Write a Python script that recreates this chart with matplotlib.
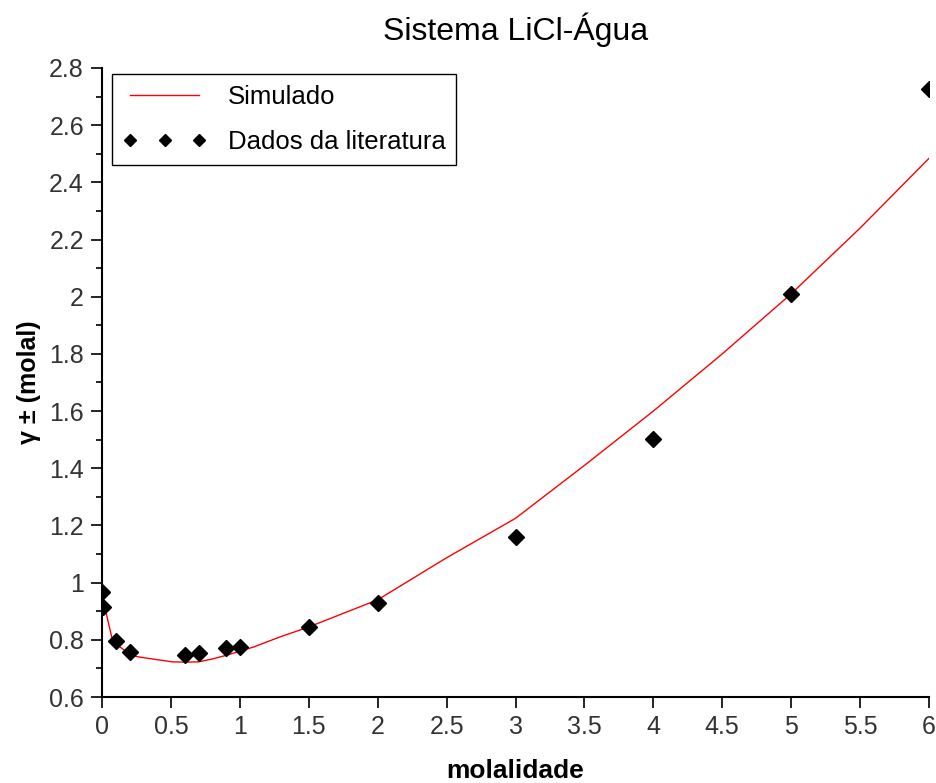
import numpy as np
import matplotlib
matplotlib.use("Agg")
import matplotlib.pyplot as plt
from matplotlib.ticker import MultipleLocator

plt.rcParams['font.family'] = ['Liberation Sans', 'DejaVu Sans']

# literature data (molality, mean activity coefficient)
m_lit = [0.001, 0.01, 0.1, 0.2, 0.6, 0.7, 0.9, 1.0, 1.5, 2.0, 3.0, 4.0, 5.0, 6.0]
g_lit = [0.968, 0.915, 0.797, 0.759, 0.746, 0.753, 0.770, 0.776, 0.846, 0.930,
         1.160, 1.503, 2.008, 2.726]

# simulated curve
m_sim = [0.0, 0.03, 0.07, 0.11, 0.22, 0.31, 0.41, 0.51, 0.6, 0.7, 0.8, 0.91,
         1.1, 1.29, 1.5, 2.0, 2.5, 3.0, 3.5, 4.0, 4.5, 5.0, 5.5, 6.0]
g_sim = [0.95, 0.894, 0.81, 0.782, 0.744, 0.737, 0.730, 0.723, 0.722, 0.723,
         0.733, 0.747, 0.775, 0.81, 0.845, 0.94, 1.087, 1.225, 1.41, 1.60,
         1.80, 2.01, 2.24, 2.484]

fig = plt.figure(figsize=(9.36, 7.83), dpi=100)
ax = fig.add_axes([0.109, 0.1098, 0.8835, 0.8034])

ax.plot(m_sim, g_sim, color='red', linewidth=1.0, label='Simulado')
ax.plot(m_lit, g_lit, linestyle='none', marker='D', markersize=8,
        color='black', label='Dados da literatura')

ax.set_xlim(0, 6)
ax.set_ylim(0.6, 2.8)
ax.xaxis.set_major_locator(MultipleLocator(0.5))
ax.yaxis.set_major_locator(MultipleLocator(0.2))
ax.yaxis.set_minor_locator(MultipleLocator(0.1))
ax.set_xticklabels([f'{v:g}' for v in ax.get_xticks()])
ax.set_yticklabels([f'{v:g}' for v in ax.get_yticks()])

for s in ['top', 'right']:
    ax.spines[s].set_visible(False)
for s in ['left', 'bottom']:
    ax.spines[s].set_linewidth(1.5)

ax.tick_params(axis='both', which='major', length=8, width=1.2,
               labelsize=18, labelcolor='#333333', pad=5)
ax.tick_params(axis='y', which='minor', length=4, width=1.2)

ax.set_xlabel('molalidade', fontsize=19, fontweight='bold', labelpad=14)
ax.set_ylabel('γ ± (molal)', fontsize=18, fontweight='bold', labelpad=6)
ax.set_title('Sistema LiCl-Água', fontsize=23, pad=20)

leg = ax.legend(loc='upper left', bbox_to_anchor=(0.012, 0.99), fontsize=18.5,
                numpoints=3, handlelength=3.3, labelspacing=0.85,
                markerscale=0.8, fancybox=False, framealpha=1, borderaxespad=0)
leg.get_frame().set_edgecolor('black')
leg.get_frame().set_linewidth(1.0)

fig.savefig('out.png', dpi=100)
